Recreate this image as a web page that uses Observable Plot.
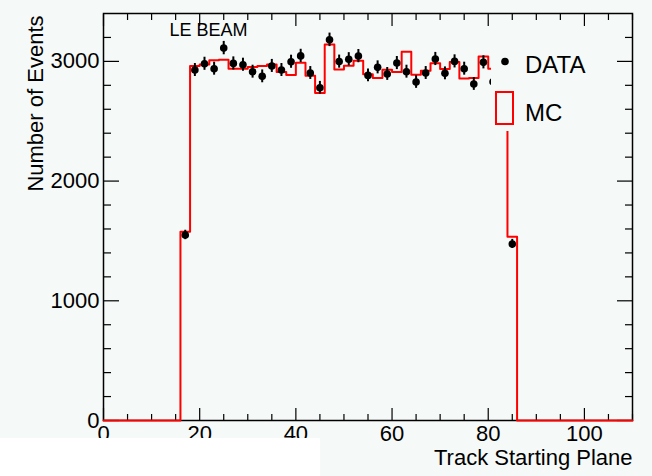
<!DOCTYPE html>
<html><head><meta charset="utf-8">
<script src="https://cdn.jsdelivr.net/npm/d3@7"></script>
<script src="https://cdn.jsdelivr.net/npm/@observablehq/plot@0.6"></script>
<style>
html,body{margin:0;padding:0;background:#f5f9f7;}
#wrap{position:relative;width:652px;height:476px;overflow:hidden;font-family:"Liberation Sans",Arial,sans-serif;}
#legend{position:absolute;left:491px;top:40px;width:118px;height:91px;background:#f5f9f7;}
#legend .t{position:absolute;left:34px;font-size:24px;line-height:1;color:#000;}
#patch{position:absolute;left:0;top:438px;width:320px;height:38px;background:#fff;}
</style></head><body><div id="wrap"></div>
<script>
// MC histogram: lower bin edges (width 2) and counts
const mcBinLow = [0,2,4,6,8,10,12,14,16,18,20,22,24,26,28,30,32,34,36,38,40,42,44,46,48,50,52,54,56,58,60,62,64,66,68,70,72,74,76,78,80,82,84,86,88,90,92,94,96,98,100,102,104,106,108];
const mcCounts = [0,0,0,0,0,0,0,0,1577,2961,2975,3010,3014,2939,2939,2953,2961,2975,2911,2886,2989,2880,2735,3140,2932,2964,3005,2893,2862,2930,2911,3080,2889,2921,2985,2936,2994,2856,2862,3040,2939,2960,1536,0,0,0,0,0,0,0,0,0,0,0,0];
const binWidth = 2;
// DATA points: bin centres and counts
const dataPlanes = [17,19,21,23,25,27,29,31,33,35,37,39,41,43,45,47,49,51,53,55,57,59,61,63,65,67,69,71,73,75,77,79,81,83,85];
const dataCounts = [1550,2928,2980,2939,3111,2983,2972,2914,2875,2962,2928,2997,3046,2903,2780,3180,2998,3018,3044,2883,2950,2895,2986,2914,2828,2903,3020,2900,3000,2939,2811,2992,2830,2950,1475];
// axis ticks
const xMajor = [0,20,40,60,80,100];
const xMinor = [5,10,15,25,30,35,45,50,55,65,70,75,85,90,95,105,110];
const yMajor = [0,1000,2000,3000];
const yMinor = [200,400,600,800,1200,1400,1600,1800,2200,2400,2600,2800,3200];
const xLabel = "Track Starting Plane";
const yLabel = "Number of Events";
const beamLabel = "LE BEAM";
const legendLabels = ["DATA","MC"];

const mcStep = mcBinLow.map((x,i)=>({x, y: mcCounts[i]}));
mcStep.push({x: mcBinLow[mcBinLow.length-1] + binWidth, y: mcCounts[mcCounts.length-1]});
const dataRows = dataPlanes.map((p,i)=>({plane:p, count:dataCounts[i]}));

const fontSize = 22;
const chart = Plot.plot({
  width: 652, height: 476,
  marginLeft: 103, marginRight: 20, marginTop: 13, marginBottom: 56,
  style: {background: "transparent", fontFamily: "'Liberation Sans', Arial, sans-serif", color: "#000", overflow: "visible"},
  x: {domain: [0, 110], axis: null},
  y: {domain: [0, 3400], axis: null},
  marks: [
    Plot.frame({stroke: "#000", strokeWidth: 1.5}),
    Plot.axisX(xMajor, {anchor: "bottom", tickSize: -12, tickFormat: () => "", strokeWidth: 1.2}),
    Plot.axisX(xMinor, {anchor: "bottom", tickSize: -6, tickFormat: () => "", strokeWidth: 1.2}),
    Plot.axisX(xMajor, {anchor: "top", tickSize: -12, tickFormat: () => "", strokeWidth: 1.2}),
    Plot.axisX(xMinor, {anchor: "top", tickSize: -6, tickFormat: () => "", strokeWidth: 1.2}),
    Plot.axisY(yMajor, {anchor: "left", tickSize: -16, tickFormat: () => "", strokeWidth: 1.2}),
    Plot.axisY(yMinor, {anchor: "left", tickSize: -8, tickFormat: () => "", strokeWidth: 1.2}),
    Plot.axisY(yMajor, {anchor: "right", tickSize: -16, tickFormat: () => "", strokeWidth: 1.2}),
    Plot.axisY(yMinor, {anchor: "right", tickSize: -8, tickFormat: () => "", strokeWidth: 1.2}),
    Plot.axisX(xMajor, {anchor: "bottom", tickSize: 0, tickPadding: 5, fontSize, tickFormat: d => String(d), label: null}),
    Plot.axisY(yMajor, {anchor: "left", tickSize: 0, tickPadding: 4, fontSize, tickFormat: d => String(d), label: null}),
    Plot.line(mcStep, {x: "x", y: "y", curve: "step-after", stroke: "#ff0000", strokeWidth: 2}),
    Plot.ruleX(dataRows, {x: "plane", y1: d => d.count - Math.sqrt(d.count), y2: d => d.count + Math.sqrt(d.count), stroke: "#000", strokeWidth: 2}),
    Plot.dot(dataRows, {x: "plane", y: "count", r: 3.8, fill: "#000", stroke: "none"}),
    Plot.text([xLabel], {frameAnchor: "bottom-right", dy: 29, lineAnchor: "top", textAnchor: "end", fontSize}),
    Plot.text([yLabel], {frameAnchor: "top-left", dx: -61, dy: 2, rotate: -90, textAnchor: "end", lineAnchor: "bottom", fontSize}),
    Plot.text([beamLabel], {frameAnchor: "top-left", dx: 66, dy: 10, lineAnchor: "top", textAnchor: "start", fontSize: 18})
  ]
});
const wrap = document.getElementById("wrap");
wrap.appendChild(chart);

// legend (drawn over the plot, with the page background)
const legend = document.createElement("div");
legend.id = "legend";
legend.innerHTML = `
<svg width="118" height="91" style="position:absolute;left:0;top:0">
  <circle cx="14" cy="21.5" r="3.8" fill="#000"/>
  <rect x="5" y="52" width="17" height="32" fill="none" stroke="#ff0000" stroke-width="2"/>
</svg>
<div class="t" style="top:13px">${legendLabels[0]}</div>
<div class="t" style="top:61px">${legendLabels[1]}</div>`;
wrap.appendChild(legend);
const patch = document.createElement("div");
patch.id = "patch";
wrap.appendChild(patch);
</script></body></html>
